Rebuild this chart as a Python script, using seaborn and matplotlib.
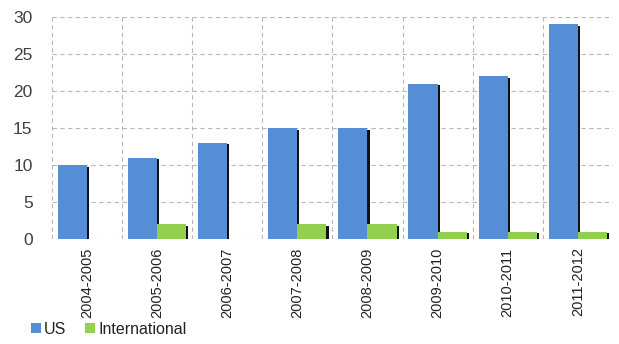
import matplotlib
matplotlib.use("Agg")
import matplotlib.pyplot as plt
import matplotlib.patheffects as pe
import seaborn as sns
import pandas as pd
import numpy as np

years = ["2004-2005", "2005-2006", "2006-2007", "2007-2008",
         "2008-2009", "2009-2010", "2010-2011", "2011-2012"]
us = [10, 11, 13, 15, 15, 21, 22, 29]
international = [0, 2, 0, 2, 2, 1, 1, 1]
series = ["US", "International"]
colors = ["#558ED5", "#92D050"]

df = pd.DataFrame({
    "year": years * 2,
    "value": us + international,
    "series": [series[0]] * len(years) + [series[1]] * len(years),
})

sns.set_style("white")
plt.rcParams["font.family"] = ["Liberation Sans", "DejaVu Sans"]

fig = plt.figure(figsize=(6.19, 3.44), dpi=100)
ax = fig.add_axes([0.084, 0.305, 0.906, 0.646])

sns.barplot(data=df, x="year", y="value", hue="series", order=years,
            hue_order=series, palette=colors, width=0.83, ax=ax,
            legend=False, saturation=1, edgecolor="none")

shadow = [pe.SimplePatchShadow(offset=(1.5, -1.2), shadow_rgbFace="#111111", alpha=1.0),
          pe.Normal()]
for p in ax.patches:
    if p.get_height() > 0:
        p.set_path_effects(shadow)
    else:
        p.set_visible(False)

ax.set_ylim(0, 30)
ax.set_yticks(np.arange(0, 31, 5))
ax.set_xlim(-0.5, len(years) - 0.5)
ax.set_xticks(np.arange(len(years)))
ax.set_xticks(np.arange(len(years)) - 0.5, minor=True)
ax.set_xticklabels(years, rotation=90, fontsize=10.5, color="#222222")
ax.tick_params(axis="y", labelsize=12.5, labelcolor="#404040", length=0, pad=14)
ax.tick_params(axis="x", which="both", length=0, pad=6)
ax.set_xlabel("")
ax.set_ylabel("")

for s in ax.spines.values():
    s.set_visible(False)

ax.grid(axis="y", which="major", color="#b8b8b8", linestyle=(0, (4, 3)), linewidth=0.8)
ax.grid(axis="x", which="minor", color="#b8b8b8", linestyle=(0, (4, 3)), linewidth=0.8)
ax.grid(axis="x", which="major", visible=False)
ax.set_axisbelow(True)

from matplotlib.patches import Patch
handles = [Patch(facecolor=c, edgecolor="none") for c in colors]
fig.legend(handles, series, loc="lower left", bbox_to_anchor=(0.027, -0.02),
           ncol=2, frameon=False, fontsize=11.5, handlelength=0.6,
           handleheight=0.6, handletextpad=0.2, columnspacing=1.2,
           labelcolor="#222222")

fig.savefig("out.png", dpi=100)
